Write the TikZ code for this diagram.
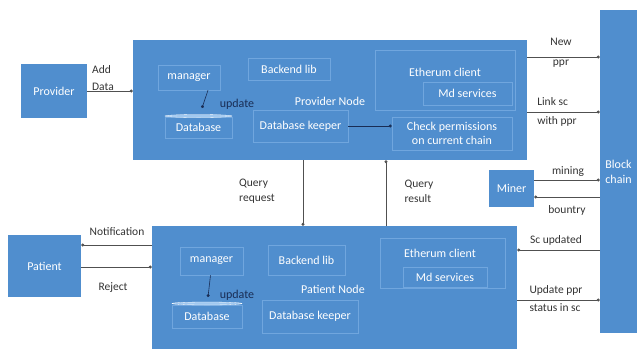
\documentclass[tikz,border=0pt]{standalone}
\usepackage{fontspec}
\setmainfont{Carlito}
\usetikzlibrary{arrows.meta,shapes.geometric}
\definecolor{boxblue}{RGB}{80,142,206}
\definecolor{innerline}{RGB}{112,166,222}
\definecolor{lblue}{RGB}{160,200,240}
\definecolor{navy}{RGB}{25,45,85}
\definecolor{conn}{RGB}{80,80,80}
\tikzset{
  bigbox/.style={fill=boxblue, draw=none, minimum width=#1, inner sep=0pt},
  inbox/.style={draw=innerline, line width=0.6pt, fill=boxblue, text=white, inner sep=0pt, font=\fontsize{12}{14}\selectfont},
  wtext/.style={text=white, inner sep=0pt, font=\fontsize{12}{15}\selectfont},
  lbl/.style={text=black!80, inner sep=0pt, font=\fontsize{11.5}{15}\selectfont, align=left},
  upd/.style={text=navy, inner sep=0pt, font=\fontsize{12}{14}\selectfont},
  con/.style={draw=conn, line width=0.6pt, -{Circle[length=3pt]}},
  incon/.style={draw=navy, line width=0.6pt, -{Circle[length=3pt]}},
  dbtop/.style={fill=lblue, draw=white, line width=0.3pt, ellipse, inner sep=0pt, minimum height=3pt},
}
\begin{document}
\begin{tikzpicture}[x=1pt, y=-1pt]
\useasboundingbox (0,0) rectangle (638,349);
% main boxes
\node[bigbox=394pt, minimum height=120pt] (pnode) at (330,100) {};
\node[bigbox=365pt, minimum height=123pt] (qnode) at (334.5,287.5) {};
\node[bigbox=66pt, minimum height=54pt, wtext] (provider) at (54,91) {Provider};
\node[bigbox=73pt, minimum height=62pt, wtext] (patient) at (44.5,266) {Patient};
\node[bigbox=37pt, minimum height=323pt] (chain) at (618.5,171.5) {};
\node[wtext, align=center] (chaintxt) at (618.5,172) {Block\\chain};
\node[bigbox=45pt, minimum height=37pt, wtext] (miner) at (511.5,188.5) {Miner};

% provider node inner
\node[inbox, minimum width=62pt, minimum height=25pt] (pm) at (189,77.5) {manager};
\node[inbox, minimum width=82pt, minimum height=22pt] (pbl) at (289,69) {Backend lib};
\node[inbox, minimum width=67pt, minimum height=21pt] (pdb) at (198.5,127.5) {Database};
\node[dbtop, minimum width=67pt] (pdbtop) at (198.5,116) {};
\node[inbox, minimum width=95pt, minimum height=32pt] (pdk) at (300.5,126) {Database keeper};
\node[inbox, minimum width=140pt, minimum height=60pt] (pec) at (445,80) {};
\node[wtext] (pectxt) at (445,72) {Etherum client};
\node[inbox, minimum width=89pt, minimum height=23pt] (pmd) at (467.5,93.5) {Md services};
\node[inbox, minimum width=120pt, minimum height=33pt, align=center] (pcp) at (452,133.5) {Check permissions\\on current chain};
\node[wtext] (pntxt) at (330,101) {Provider Node};
\node[upd] (pupd) at (237,104) {update};

% patient node inner
\node[inbox, minimum width=63pt, minimum height=28pt] (qm) at (211.5,261) {manager};
\node[inbox, minimum width=77pt, minimum height=30pt] (qbl) at (306.5,260) {Backend lib};
\node[inbox, minimum width=70pt, minimum height=23pt] (qdb) at (207,316.5) {Database};
\node[dbtop, minimum width=70pt] (qdbtop) at (207,303.5) {};
\node[inbox, minimum width=96pt, minimum height=33pt] (qdk) at (310,316.5) {Database keeper};
\node[inbox, minimum width=125pt, minimum height=50pt] (qec) at (442.5,263) {};
\node[wtext] (qectxt) at (440,253) {Etherum client};
\node[inbox, minimum width=84pt, minimum height=20pt] (qmd) at (445,277) {Md services};
\node[wtext] (qntxt) at (333,289) {Patient Node};
\node[upd] (qupd) at (237,295) {update};

% inner connectors
\coordinate (pu) at (202,108);
\draw[incon] ([xshift=19pt]pm.south) -- (pu);
\coordinate (qu) at (208,297);
\draw[incon] ([xshift=-1pt]qm.south) -- (qu);
\draw[incon] (pdk.east) -- (pcp.west |- pdk.east);

% outer connectors
\draw[con] (provider.east) -- (pnode.west |- provider.east);
\node[lbl, font=\fontsize{11.5}{17}\selectfont] (adddata) at (103,78) {Add\\Data};

\coordinate (c1) at (527,57);
\draw[con] (c1) -- (chain.west |- c1);
\node[lbl, align=center] (newppr) at (561,53) {New\\[5pt]ppr};

\coordinate (c2) at (527,112);
\draw[con] (c2) -- (chain.west |- c2);
\node[lbl] (linksc) at (557,112) {Link sc\\[4pt]with ppr};

\coordinate (c3) at (303,160);
\draw[con] (c3) -- (qnode.north -| c3);
\node[lbl] (qreq) at (257,191) {Query\\request};

\coordinate (c4) at (386,226);
\draw[con] (c4) -- (pnode.south -| c4);
\node[lbl] (qres) at (419,191) {Query\\result};

\coordinate (c5) at (534,180);
\draw[con] (c5) -- (chain.west |- c5);
\node[lbl] (mining) at (568,172) {mining};

\coordinate (c6) at (600,197);
\draw[con] (c6) -- (miner.east |- c6);
\node[lbl] (bountry) at (567,210) {bountry};

\coordinate (c7) at (600,250);
\draw[con] (c7) -- (qnode.east |- c7);
\node[lbl] (scupd) at (556,240) {Sc updated};

\coordinate (c8) at (517,300);
\draw[con] (c8) -- (chain.west |- c8);
\node[lbl] (updppr) at (556,299) {Update ppr\\[3pt]status in sc};

\coordinate (c9) at (152,245);
\draw[con] (c9) -- (patient.east |- c9);
\node[lbl] (notif) at (117,232) {Notification};

\coordinate (c10) at (81,267);
\draw[con] (c10) -- (qnode.west |- c10);
\node[lbl] (reject) at (113,288) {Reject};
\end{tikzpicture}
\end{document}
